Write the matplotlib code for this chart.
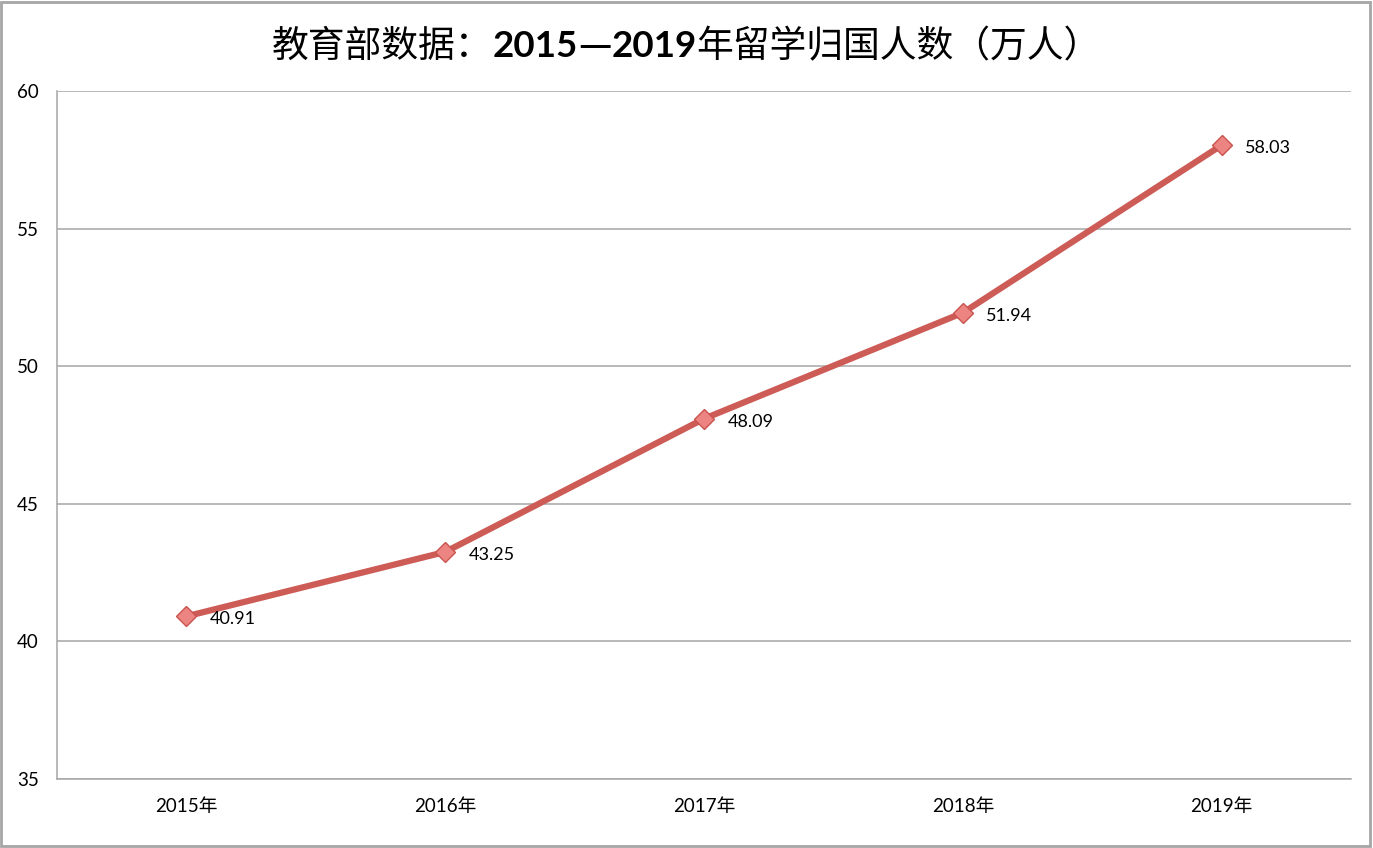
import matplotlib
matplotlib.use("Agg")
import matplotlib.pyplot as plt

plt.rcParams['font.family'] = ['Lato', 'Noto Sans CJK SC', 'DejaVu Sans']

years = ['2015年', '2016年', '2017年', '2018年', '2019年']
returnees = [40.91, 43.25, 48.09, 51.94, 58.03]
y_ticks = [35, 40, 45, 50, 55, 60]

# title pieces: (text, weight, family)
cjk = ['Noto Sans CJK SC', 'DejaVu Sans']
latin = ['Lato', 'Noto Sans CJK SC']
title_parts = [('教育部数据：', 'normal', cjk), ('2015', 'bold', latin),
               ('—', 'bold', cjk), ('2019', 'bold', latin),
               ('年留学归国人数（万人）', 'normal', cjk)]

fig = plt.figure(figsize=(13.73, 8.48), dpi=100)
ax = fig.add_axes([0.0415, 0.0814, 0.9425, 0.8113])

x = list(range(len(years)))
ax.plot(x, returnees, color='#cd5b56', linewidth=4.5, solid_capstyle='round',
        marker='D', markersize=10, markerfacecolor='#ec8582',
        markeredgecolor='#c9534e', markeredgewidth=1.0, zorder=3)

for xi, v in zip(x, returnees):
    ax.annotate(f'{v:.2f}', (xi, v), xytext=(17, -2), textcoords='offset points',
                ha='left', va='center', fontsize=13, color='black')

ax.set_xlim(-0.5, len(years) - 0.5)
ax.set_ylim(35, 60)
ax.set_yticks(y_ticks)
ax.set_xticks(x)
ax.set_xticklabels(years)
ax.tick_params(axis='both', length=0, labelsize=13.5, colors='black')
ax.tick_params(axis='y', pad=13)
ax.tick_params(axis='x', pad=14)
ax.grid(axis='y', color='#a6a6a6', linewidth=1.1)
ax.set_axisbelow(True)
for s in ['top', 'right']:
    ax.spines[s].set_visible(False)
for s in ['left', 'bottom']:
    ax.spines[s].set_color('#a6a6a6')
    ax.spines[s].set_linewidth(1.1)

# title built from pieces so only the years are bold
renderer = fig.canvas.get_renderer()
texts = []
for t, w, fam in title_parts:
    texts.append(fig.text(0, 0.945, t, ha='left', va='center', fontsize=26.5,
                          fontweight=w, family=fam))
widths = [tx.get_window_extent(renderer).width for tx in texts]
W = fig.get_figwidth() * fig.dpi
xpos = (W - sum(widths)) / 2
for tx, w in zip(texts, widths):
    tx.set_x(xpos / W)
    xpos += w

# gray frame around whole chart
fig.patches.append(plt.Rectangle((0.001, 0.002), 0.997, 0.996, transform=fig.transFigure,
                                 fill=False, edgecolor='#a6a6a6', linewidth=2))

fig.savefig('out.png', dpi=100)
